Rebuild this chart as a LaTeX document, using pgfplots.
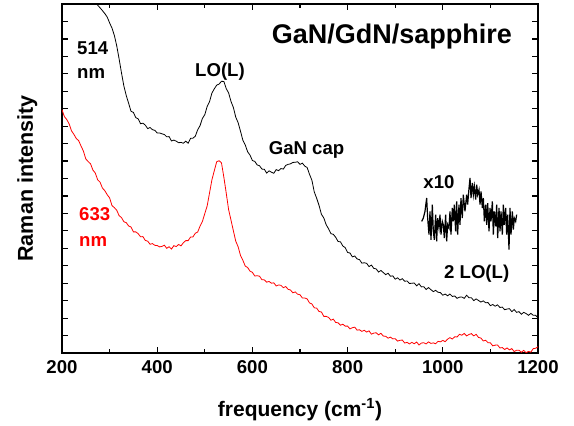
\documentclass[border=0pt]{standalone}
\usepackage{pgfplots}
\pgfplotsset{compat=1.18}
\usepackage{fontspec}
\setmainfont{Liberation Sans}
\begin{document}
\begin{tikzpicture}
\begin{axis}[
  at={(0,0)}, anchor=south west,
  scale only axis, width=476pt, height=349pt,
  xmin=200, xmax=1200, ymin=0, ymax=20,
  xtick={200,400,...,1200},
  minor xtick={300,500,...,1100},
  ytick={1,...,19},
  yticklabels={},
  tick align=inside,
  major tick length=6pt, minor tick length=4pt,
  axis line style={line width=1.6pt},
  every tick/.style={line width=1.2pt, black},
  /pgf/number format/assume math mode=true,
  /pgf/number format/1000 sep={},
  tick label style={font=\fontsize{18.6}{22}\selectfont\bfseries},
  xticklabel style={yshift=-3.5pt},
  xlabel={frequency (cm\textsuperscript{-1})},
  ylabel={Raman intensity},
  xlabel style={at={(axis description cs:0.5,-0.163)}, anchor=center, font=\fontsize{21}{24}\selectfont\bfseries},
  ylabel style={at={(axis description cs:-0.0727,0.5)}, anchor=center, font=\fontsize{21.5}{24}\selectfont\bfseries},
  clip=true,
]
% 514 nm (black)
\addplot[black, line width=0.8pt] coordinates {
(250,21.30)(255,21.02)(260,20.73)(265,20.45)(270,20.17)(275,19.93)(280,19.78)(285,19.62)(290,19.45)(295,19.25)
(300,18.92)(305,18.62)(310,18.20)(315,17.60)(320,16.85)(325,16.05)(330,15.30)(335,14.75)(340,14.31)(345,13.85)
(350,13.79)(355,13.49)(360,13.42)(365,13.14)(370,13.17)(375,13.06)(380,12.86)(385,12.92)(390,12.80)(395,12.76)
(400,12.61)(405,12.61)(410,12.56)(415,12.52)(420,12.39)(425,12.40)(430,12.15)(435,12.20)(440,12.14)(445,12.05)
(450,12.07)(455,12.02)(460,12.14)(465,12.02)(470,12.30)(475,12.31)(480,12.42)(485,12.79)(490,13.03)(495,13.44)
(500,13.66)(505,14.13)(510,14.41)(515,14.90)(520,15.14)(525,15.35)(530,15.41)(535,15.57)(540,15.56)(545,15.15)
(550,14.91)(555,14.42)(560,14.07)(565,13.52)(570,13.20)(575,12.71)(580,12.19)(585,11.92)(590,11.53)(595,11.34)
(600,11.03)(605,10.98)(610,10.78)(615,10.73)(620,10.54)(625,10.53)(630,10.31)(635,10.44)(640,10.36)(645,10.30)
(650,10.51)(655,10.45)(660,10.57)(665,10.54)(670,10.75)(675,10.81)(680,10.84)(685,10.92)(690,10.93)(695,10.96)
(700,10.81)(705,10.88)(710,10.71)(715,10.63)(720,10.24)(725,9.90)(730,9.23)(735,8.87)(740,8.46)(745,7.95)
(750,7.74)(755,7.35)(760,7.12)(765,6.84)(770,6.80)(775,6.63)(780,6.39)(785,6.37)(790,6.13)(795,6.04)
(800,5.76)(805,5.73)(810,5.51)(815,5.56)(820,5.39)(825,5.35)(830,5.15)(835,5.17)(840,5.14)(845,4.95)
(850,5.04)(855,4.85)(860,4.82)(865,4.64)(870,4.73)(875,4.61)(880,4.49)(885,4.57)(890,4.40)(895,4.42)
(900,4.23)(905,4.31)(910,4.18)(915,4.26)(920,4.11)(925,4.13)(930,3.98)(935,4.00)(940,4.01)(945,3.85)
(950,3.97)(955,3.79)(960,3.80)(965,3.64)(970,3.75)(975,3.63)(980,3.52)(985,3.59)(990,3.48)(995,3.46)
(1000,3.31)(1005,3.38)(1010,3.28)(1015,3.38)(1020,3.24)(1025,3.27)(1030,3.13)(1035,3.20)(1040,3.21)(1045,3.13)
(1050,3.31)(1055,3.17)(1060,3.17)(1065,3.00)(1070,3.10)(1075,3.01)(1080,2.92)(1085,2.99)(1090,2.88)(1095,2.89)
(1100,2.71)(1105,2.78)(1110,2.68)(1115,2.76)(1120,2.61)(1125,2.63)(1130,2.48)(1135,2.52)(1140,2.54)(1145,2.37)
(1150,2.49)(1155,2.33)(1160,2.37)(1165,2.22)(1170,2.33)(1175,2.26)(1180,2.16)(1185,2.27)(1190,2.16)(1195,2.16)
(1200,2.01)
};
% 633 nm (red)
\addplot[red, line width=0.8pt] coordinates {
(200,13.94)(205,13.55)(210,13.38)(215,13.13)(220,12.73)(225,12.53)(230,12.29)(235,12.17)(240,11.86)(245,11.57)
(250,11.12)(255,10.97)(260,10.84)(265,10.48)(270,10.31)(275,9.92)(280,9.79)(285,9.45)(290,9.30)(295,9.07)
(300,8.89)(305,8.45)(310,8.33)(315,8.18)(320,7.87)(325,7.76)(330,7.52)(335,7.47)(340,7.28)(345,7.22)
(350,6.94)(355,6.94)(360,6.84)(365,6.66)(370,6.67)(375,6.45)(380,6.41)(385,6.23)(390,6.27)(395,6.17)
(400,6.16)(405,6.08)(410,6.11)(415,6.18)(420,6.00)(425,6.09)(430,5.96)(435,6.15)(440,6.10)(445,6.22)
(450,6.14)(455,6.32)(460,6.44)(465,6.44)(470,6.64)(475,6.65)(480,6.86)(485,6.93)(490,7.27)(495,7.54)
(500,7.99)(505,8.43)(510,9.18)(515,9.93)(520,10.45)(525,10.96)(530,11.02)(535,10.90)(540,10.08)(545,9.17)
(550,8.22)(555,7.62)(560,7.01)(565,6.41)(570,6.09)(575,5.59)(580,5.31)(585,4.98)(590,4.90)(595,4.69)
(600,4.62)(605,4.41)(610,4.43)(615,4.40)(620,4.20)(625,4.19)(630,4.06)(635,4.10)(640,4.00)(645,4.02)
(650,3.84)(655,3.90)(660,3.88)(665,3.74)(670,3.81)(675,3.65)(680,3.61)(685,3.45)(690,3.50)(695,3.37)
(700,3.34)(705,3.15)(710,3.15)(715,3.10)(720,2.87)(725,2.81)(730,2.59)(735,2.57)(740,2.38)(745,2.35)
(750,2.10)(755,2.10)(760,2.04)(765,1.88)(770,1.94)(775,1.75)(780,1.73)(785,1.59)(790,1.65)(795,1.54)
(800,1.54)(805,1.38)(810,1.45)(815,1.48)(820,1.31)(825,1.33)(830,1.24)(835,1.30)(840,1.20)(845,1.27)
(850,1.08)(855,1.14)(860,1.16)(865,1.04)(870,1.13)(875,0.97)(880,0.96)(885,0.85)(890,0.91)(895,0.81)
(900,0.82)(905,0.68)(910,0.73)(915,0.74)(920,0.57)(925,0.61)(930,0.52)(935,0.61)(940,0.53)(945,0.63)
(950,0.46)(955,0.57)(960,0.59)(965,0.52)(970,0.64)(975,0.55)(980,0.58)(985,0.53)(990,0.67)(995,0.64)
(1000,0.72)(1005,0.65)(1010,0.79)(1015,0.88)(1020,0.80)(1025,0.93)(1030,0.92)(1035,1.07)(1040,1.02)(1045,1.12)
(1050,0.98)(1055,1.06)(1060,1.11)(1065,0.98)(1070,1.07)(1075,0.89)(1080,0.86)(1085,0.69)(1090,0.73)(1095,0.59)
(1100,0.58)(1105,0.41)(1110,0.45)(1115,0.46)(1120,0.29)(1125,0.31)(1130,0.20)(1135,0.29)(1140,0.18)(1145,0.25)
(1150,0.08)(1155,0.16)(1160,0.16)(1165,0.04)(1170,0.15)(1175,0.02)(1180,0.09)(1185,0.05)(1190,0.25)(1195,0.27)
(1200,0.36)
};
% x10 inset (2 LO(L))
\addplot[black, line width=1.2pt] coordinates {
(955.6,7.54)(959.1,7.73)(962.6,8.12)(966.1,8.88)(968.2,7.73)(971.0,6.78)(973.1,8.12)(975.2,6.49)(978.0,8.50)(980.1,6.97)
(982.2,6.49)(985.0,7.93)(987.1,6.40)(989.2,7.73)(992.0,7.16)(994.1,7.93)(996.2,6.78)(999.0,7.54)(1001.1,7.35)(1003.2,6.59)
(1006.0,7.93)(1008.1,6.40)(1010.2,7.35)(1013.0,7.16)(1015.1,8.12)(1017.2,6.78)(1020.0,8.31)(1022.1,7.54)(1024.2,8.50)(1027.0,6.97)
(1029.1,8.69)(1031.2,6.78)(1034.0,8.50)(1036.1,7.35)(1038.2,8.88)(1041.0,7.73)(1043.1,9.07)(1046.6,8.12)(1050.1,9.07)(1052.2,8.50)
(1055.1,9.45)(1057.2,10.03)(1059.3,8.88)(1062.1,9.74)(1064.2,9.07)(1066.3,9.55)(1069.1,8.79)(1071.2,9.65)(1073.3,9.07)(1076.1,9.36)
(1078.2,8.50)(1080.3,9.26)(1083.1,8.31)(1085.2,8.88)(1087.3,7.54)(1090.1,8.50)(1092.2,7.35)(1094.3,8.59)(1097.1,6.97)(1099.2,8.31)
(1101.3,7.54)(1104.1,8.69)(1106.2,6.78)(1108.3,8.12)(1111.1,7.26)(1113.2,8.50)(1115.3,6.59)(1118.1,8.31)(1120.2,6.97)(1122.3,8.12)
(1125.1,6.78)(1127.2,8.50)(1129.3,7.35)(1132.1,8.31)(1134.2,6.78)(1136.3,7.93)(1139.1,5.92)(1141.2,8.31)(1143.3,6.78)(1146.1,8.12)
(1148.2,7.07)(1150.3,7.73)(1153.1,7.54)(1155.2,7.93)
};
\node[anchor=base, inner sep=0pt, font=\fontsize{27}{30}\selectfont\bfseries] at (axis cs:893,17.75) {GaN/GdN/sapphire};
\node[anchor=base west, inner sep=0pt, font=\fontsize{18.6}{22}\selectfont\bfseries] at (axis cs:231.5,17.08) {514};
\node[anchor=base west, inner sep=0pt, font=\fontsize{18.6}{22}\selectfont\bfseries] at (axis cs:231.5,15.74) {nm};
\node[anchor=base west, inner sep=0pt, text=red, font=\fontsize{18.6}{22}\selectfont\bfseries] at (axis cs:235.7,7.62) {633};
\node[anchor=base west, inner sep=0pt, text=red, font=\fontsize{18.6}{22}\selectfont\bfseries] at (axis cs:235.7,6.09) {nm};
\node[anchor=base, inner sep=0pt, font=\fontsize{18.6}{22}\selectfont\bfseries] at (axis cs:531.9,15.87) {LO(L)};
\node[anchor=base, inner sep=0pt, font=\fontsize{18.6}{22}\selectfont\bfseries] at (axis cs:713.7,11.40) {GaN cap};
\node[anchor=base, inner sep=0pt, font=\fontsize{18.6}{22}\selectfont\bfseries] at (axis cs:992,9.42) {x10};
\node[anchor=base, inner sep=0pt, font=\fontsize{18.6}{22}\selectfont\bfseries] at (axis cs:1071.2,4.28) {2 LO(L)};
\end{axis}
\pgfresetboundingbox
\path[use as bounding box] (-62pt,-73pt) rectangle (512pt,353pt);
\end{tikzpicture}
\end{document}
